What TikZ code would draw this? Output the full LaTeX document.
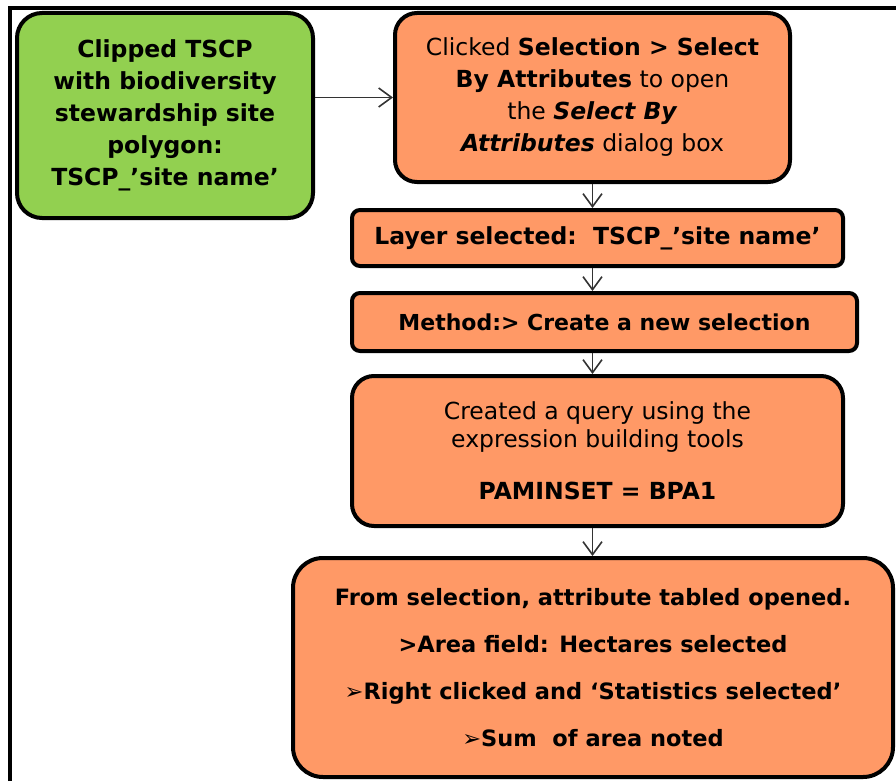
\documentclass[tikz,border=0pt]{standalone}
\usepackage{fontspec}
\setmainfont{DejaVu Sans}
\usetikzlibrary{arrows.meta}
\definecolor{boxgreen}{RGB}{146,208,80}
\definecolor{boxorange}{RGB}{255,153,102}
\tikzset{
  stepbox/.style={draw=black, line width=4pt, rounded corners=#1, align=center,
    inner sep=0pt, font=\fontsize{23.5}{32}\selectfont},
  flow/.style={-{Straight Barb[length=13pt,width=19pt]}, line width=1.6pt, draw=black!80}
}

\begin{document}
\begin{tikzpicture}[x=1pt,y=-1pt]
    \useasboundingbox (0,0) rectangle (896,781);
    \draw[line width=3.5pt] (10,781) -- (10,8) -- (896,8);

    \node[stepbox=25pt, fill=boxgreen, minimum width=296pt, minimum height=205pt] (clipped) at (165,115.5)
      {\bfseries Clipped TSCP\\ \bfseries with biodiversity\\ \bfseries stewardship site\\ \bfseries polygon:\\ \bfseries TSCP\_'site name'};
    \node[stepbox=22pt, fill=boxorange, minimum width=395pt, minimum height=169pt] (clicked) at (592.5,97.5)
      {Clicked \textbf{Selection > Select}\\ \textbf{By Attributes} to open\\ the \textbf{\itshape Select By}\\ \textbf{\itshape Attributes} dialog box};
    \node[stepbox=8pt, fill=boxorange, minimum width=491pt, minimum height=56pt] (layer) at (597.5,238)
      {\bfseries Layer selected:\ \ TSCP\_'site name'};
    \node[stepbox=8pt, fill=boxorange, minimum width=505pt, minimum height=58pt,
      font=\fontsize{22}{30}\selectfont] (method) at (604.5,322)
      {\bfseries Method:> Create a new selection};
    \node[stepbox=22pt, fill=boxorange, minimum width=491pt, minimum height=150pt] (query) at (597.5,451)
      {Created a query using the\\[-4pt] expression building tools\\[20pt] \textbf{PAMINSET = BPA1}};
    \node[stepbox=30pt, fill=boxorange, minimum width=600pt, minimum height=219pt,
      font=\fontsize{22.5}{31}\selectfont] (table) at (593,667.5)
      {\bfseries From selection, attribute tabled opened.\\[16pt]
       \bfseries >Area field: Hectares selected\\[16pt]
       \bfseries ➢Right clicked and ‘Statistics selected’\\[16pt]
       \bfseries ➢Sum\ \ of area noted};

    \draw[flow] (clipped.east |- clicked.west) -- (clicked.west);
    \draw[flow] (clicked.south) -- (clicked.south |- layer.north);
    \draw[flow] (layer.south -| clicked.south) -- (clicked.south |- method.north);
    \draw[flow] (method.south -| clicked.south) -- (clicked.south |- query.north);
    \draw[flow] (query.south -| clicked.south) -- (clicked.south |- table.north);
\end{tikzpicture}
\end{document}
